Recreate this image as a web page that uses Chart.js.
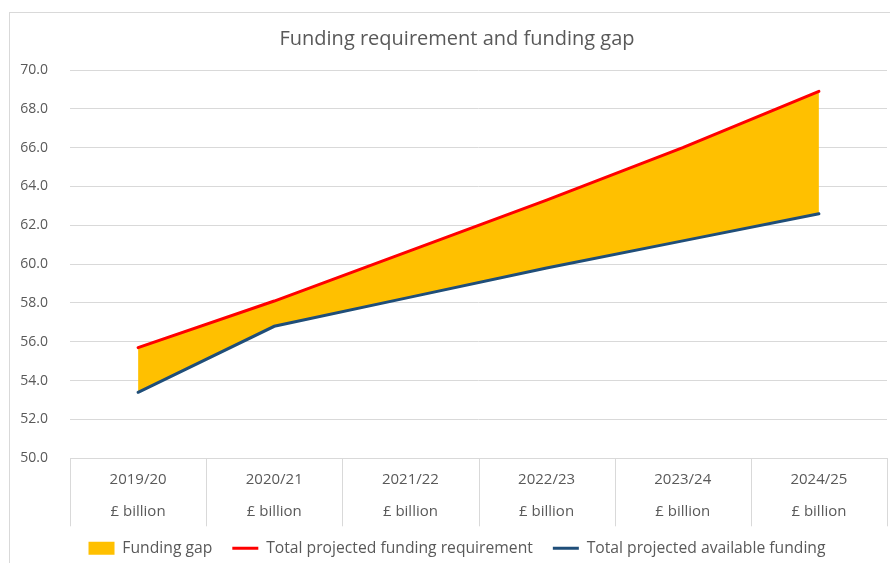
<!DOCTYPE html>
<html>
<head>
<meta charset="utf-8">
<script src="https://cdn.jsdelivr.net/npm/chart.js@4.4.0/dist/chart.umd.min.js"></script>
<style>
  html, body { margin: 0; padding: 0; background: #fff; overflow: hidden; }
  #marco {
    position: absolute; left: 9px; top: 12px;
    width: 889px; height: 563px;
    border: 1px solid #d9d9d9; box-sizing: border-box;
  }
</style>
</head>
<body>
<div id="marco"><canvas id="grafico"></canvas></div>
<script>
// Datos
const years = ['2019/20', '2020/21', '2021/22', '2022/23', '2023/24', '2024/25'];
const unitLabel = '£ billion';
const fundingRequirement = [55.7, 58.1, 60.7, 63.3, 66.0, 68.9];
const availableFunding = [53.4, 56.8, 58.3, 59.8, 61.2, 62.6];
const yMin = 50;
const yMax = 70;
const yStep = 2;

const gris = '#595959';
const lineaGrid = '#d9d9d9';
const fuente = "'Open Sans', 'Liberation Sans', sans-serif";

// lineas verticales entre categorias, solo en la zona de etiquetas del eje x
const separadores = {
  id: 'separadores',
  afterDraw(chart) {
    const x = chart.scales.x;
    const c = chart.ctx;
    const n = chart.data.labels.length;
    const ancho = (x.right - x.left) / n;
    c.save();
    c.strokeStyle = lineaGrid;
    c.lineWidth = 1;
    c.beginPath();
    for (let i = 0; i <= n; i++) {
      const px = Math.round(x.left + i * ancho) + 0.5;
      c.moveTo(px, x.top);
      c.lineTo(px, x.top + 68);
    }
    c.stroke();
    c.restore();
  }
};

const ctx = document.getElementById('grafico').getContext('2d');
new Chart(ctx, {
  type: 'line',
  data: {
    labels: years.map(y => [y, unitLabel]),
    datasets: [
      {
        label: 'Funding gap',
        data: fundingRequirement,
        backgroundColor: '#FFC000',
        borderColor: 'rgba(0,0,0,0)',
        borderWidth: 0,
        pointRadius: 0,
        fill: 2,
        order: 3,
        pointStyle: 'rect'
      },
      {
        label: 'Total projected funding requirement',
        data: fundingRequirement,
        borderColor: '#FF0000',
        backgroundColor: '#FF0000',
        borderWidth: 3,
        borderCapStyle: 'round',
        pointRadius: 0,
        fill: false,
        order: 1,
        pointStyle: 'line'
      },
      {
        label: 'Total projected available funding',
        data: availableFunding,
        borderColor: '#1F4E79',
        backgroundColor: '#1F4E79',
        borderWidth: 3,
        borderCapStyle: 'round',
        pointRadius: 0,
        fill: false,
        order: 2,
        pointStyle: 'line'
      }
    ]
  },
  options: {
    responsive: true,
    maintainAspectRatio: false,
    animation: false,
    layout: { padding: { left: 7, right: 0, top: 0, bottom: 8 } },
    plugins: {
      filler: { drawTime: 'beforeDatasetsDraw' },
      tooltip: { enabled: false },
      title: {
        display: true,
        text: 'Funding requirement and funding gap',
        color: gris,
        font: { family: fuente, size: 20, weight: 'normal' },
        padding: { top: 14, bottom: 19 }
      },
      legend: {
        position: 'bottom',
        labels: {
          color: gris,
          font: { family: fuente, size: 15.7 },
          usePointStyle: true,
          pointStyleWidth: 26,
          boxHeight: 13,
          padding: 20,
          sort: (a, b) => a.datasetIndex - b.datasetIndex
        }
      }
    },
    scales: {
      x: {
        offset: true,
        grid: { display: false },
        border: { display: true, color: lineaGrid },
        afterFit: s => { s.height = 62; },
        ticks: {
          color: gris,
          font: { family: fuente, size: 15, lineHeight: 2.133 },
          padding: -3,
          maxRotation: 0,
          autoSkip: false
        }
      },
      y: {
        min: yMin,
        max: yMax,
        afterFit: s => { s.width = 53; },
        grid: { color: lineaGrid, drawTicks: false },
        border: { display: false },
        ticks: {
          stepSize: yStep,
          color: gris,
          font: { family: fuente, size: 14 },
          padding: 22,
          callback: v => v.toFixed(1)
        }
      },
      // margen derecho vacio, como en el original
      yMargen: {
        position: 'right',
        min: yMin,
        max: yMax,
        afterFit: s => { s.width = 10; },
        grid: { display: false },
        border: { display: false },
        ticks: { display: false }
      }
    }
  },
  plugins: [separadores]
});
</script>
</body>
</html>
